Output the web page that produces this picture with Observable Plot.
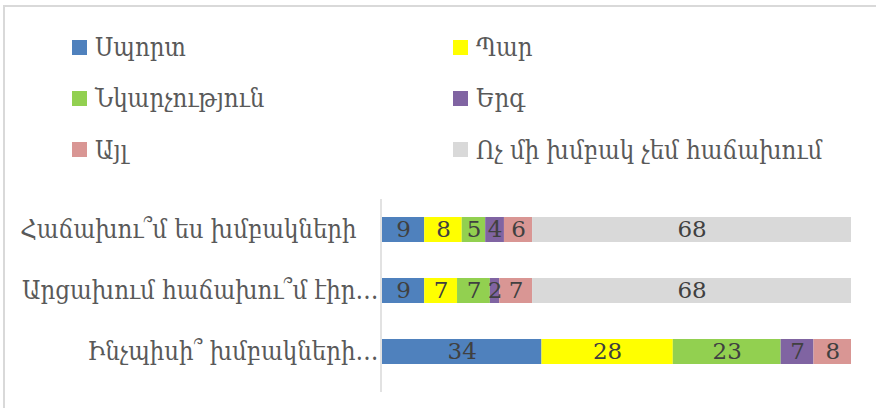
<!DOCTYPE html>
<html>
<head>
<meta charset="utf-8">
<script src="https://cdn.jsdelivr.net/npm/d3@7"></script>
<script src="https://cdn.jsdelivr.net/npm/@observablehq/plot@0.6"></script>
<style>
  html, body { margin: 0; padding: 0; background: #fff; overflow: hidden; }
  #wrap { position: relative; width: 876px; height: 408px; overflow: hidden; }
  #frame { position: absolute; left: 3px; top: 5px; width: 900px; height: 430px; border: 2px solid #d9d9d9; box-sizing: border-box; }
  .item { position: absolute; display: flex; align-items: center; height: 30px; white-space: nowrap;
          font-family: "DejaVu Serif Condensed", "DejaVu Serif", serif; font-size: 25.5px; color: #595959; }
  .sw { width: 15px; height: 15px; margin-right: 8px; flex: none; }
  #chart { position: absolute; left: 0; top: 190px; }
</style>
</head>
<body>
<div id="wrap">
  <div id="frame"></div>
  <div id="legend"></div>
  <div id="chart"></div>
</div>
<script>
const questions = ["Հաճախու՞մ ես խմբակների", "Արցախում հաճախու՞մ էիր…", "Ինչպիսի՞ խմբակների…"];
const series = ["Սպորտ", "Պար", "Նկարչություն", "Երգ", "Այլ", "Ոչ մի խմբակ չեմ հաճախում"];
const colors = ["#4f81bd", "#ffff00", "#92d050", "#8064a2", "#d99694", "#d9d9d9"];
const q1Values = [9, 8, 5, 4, 6, 68];
const q2Values = [9, 7, 7, 2, 7, 68];
const q3Values = [34, 28, 23, 7, 8, 0];

const allValues = [q1Values, q2Values, q3Values];
const data = [];
questions.forEach((q, i) => {
  series.forEach((s, j) => {
    const v = allValues[i][j];
    if (v > 0) data.push({question: q, series: s, value: v});
  });
});

// Legend: 2 columns, 3 rows (row-major)
const legend = document.getElementById("legend");
const colLeft = [72, 453];
const rowCenter = [47, 98, 149.5];
series.forEach((s, j) => {
  const it = document.createElement("div");
  it.className = "item";
  it.style.left = colLeft[j % 2] + "px";
  it.style.top = (rowCenter[Math.floor(j / 2)] - 15) + "px";
  const sw = document.createElement("span");
  sw.className = "sw";
  sw.style.background = colors[j];
  const t = document.createElement("span");
  t.textContent = s;
  it.appendChild(sw);
  it.appendChild(t);
  legend.appendChild(it);
});

const plot = Plot.plot({
  width: 876,
  height: 218,
  marginLeft: 382,
  marginRight: 25,
  marginTop: 9,
  marginBottom: 16,
  style: {fontFamily: '"DejaVu Serif Condensed", "DejaVu Serif", serif', fontSize: "25.5px", color: "#595959", background: "transparent"},
  x: {domain: [0, 100], axis: null},
  y: {domain: questions, paddingInner: 0.593, paddingOuter: 0.366, align: 0.4, label: null},
  color: {domain: series, range: colors},
  marks: [
    Plot.barX(data, Plot.stackX({x: "value", y: "question", fill: "series", z: "series"})),
    Plot.text(data, Plot.stackX({x: "value", y: "question", z: "series", text: d => String(d.value), fill: "#404040", fontSize: 23, fontFamily: '"DejaVu Serif", serif'})),
    Plot.ruleX([0], {stroke: "#d9d9d9", strokeWidth: 1.5, dx: -1.5}),
    Plot.axisY({tickSize: 0, tickPadding: 4, fontSize: 25.5, tickFormat: d => d.endsWith("…") ? d : d + "\u00a0\u00a0\u00a0"})
  ]
});
document.getElementById("chart").appendChild(plot);
</script>
</body>
</html>
